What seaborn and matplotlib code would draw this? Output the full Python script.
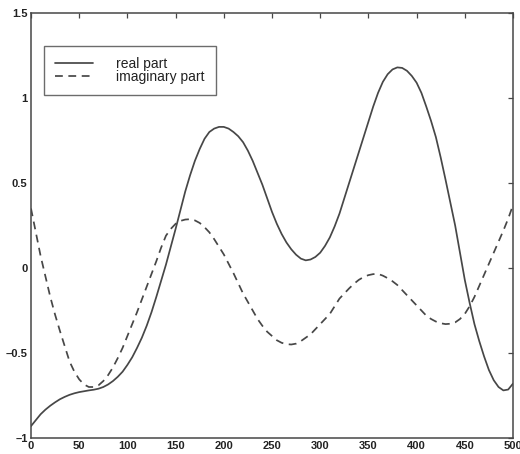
import numpy as np
import pandas as pd
import matplotlib
matplotlib.use("Agg")
import matplotlib.pyplot as plt
import seaborn as sns

# Sample index (0..500 in steps of 5)
n = list(range(0, 501, 5))

real_part = [
    -0.93, -0.895, -0.86, -0.833, -0.81, -0.79, -0.772, -0.758, -0.746, -0.737,
    -0.73, -0.725, -0.72, -0.716, -0.71, -0.70, -0.685, -0.665, -0.64, -0.61,
    -0.57, -0.525, -0.47, -0.41, -0.34, -0.26, -0.17, -0.075, 0.02, 0.125,
    0.23, 0.34, 0.45, 0.545, 0.63, 0.70, 0.76, 0.80, 0.82, 0.83,
    0.83, 0.82, 0.80, 0.775, 0.74, 0.69, 0.63, 0.56, 0.49, 0.41,
    0.33, 0.26, 0.20, 0.15, 0.11, 0.078, 0.055, 0.045, 0.05, 0.065,
    0.09, 0.13, 0.18, 0.245, 0.32, 0.41, 0.50, 0.59, 0.68, 0.77,
    0.86, 0.95, 1.03, 1.095, 1.14, 1.168, 1.18, 1.177, 1.16, 1.13,
    1.09, 1.03, 0.95, 0.865, 0.77, 0.65, 0.52, 0.385, 0.25, 0.09,
    -0.07, -0.205, -0.33, -0.43, -0.52, -0.60, -0.66, -0.70, -0.72, -0.715,
    -0.68,
]

imag_part = [
    0.35, 0.21, 0.07, -0.05, -0.17, -0.275, -0.37, -0.46, -0.55, -0.61,
    -0.655, -0.685, -0.70, -0.70, -0.69, -0.665, -0.63, -0.585, -0.53, -0.47,
    -0.40, -0.33, -0.26, -0.185, -0.11, -0.035, 0.04, 0.12, 0.19, 0.23,
    0.26, 0.277, 0.285, 0.287, 0.28, 0.265, 0.24, 0.21, 0.17, 0.125,
    0.08, 0.025, -0.03, -0.09, -0.15, -0.20, -0.25, -0.30, -0.34, -0.375,
    -0.40, -0.425, -0.44, -0.448, -0.45, -0.445, -0.43, -0.41, -0.39, -0.36,
    -0.33, -0.30, -0.27, -0.225, -0.18, -0.15, -0.12, -0.093, -0.07, -0.053,
    -0.042, -0.036, -0.035, -0.045, -0.06, -0.078, -0.10, -0.13, -0.16, -0.19,
    -0.22, -0.25, -0.28, -0.30, -0.315, -0.325, -0.33, -0.328, -0.32, -0.30,
    -0.27, -0.225, -0.17, -0.105, -0.04, 0.025, 0.09, 0.155, 0.22, 0.29,
    0.37,
]

labels = ["real part", "imaginary part"]
x_ticks = [0, 50, 100, 150, 200, 250, 300, 350, 400, 450, 500]
y_ticks = [-1, -0.5, 0, 0.5, 1, 1.5]
y_tick_labels = ["\u20131", "\u20130.5", "0", "0.5", "1", "1.5"]

df = pd.concat([
    pd.DataFrame({"n": n, "value": real_part, "part": labels[0]}),
    pd.DataFrame({"n": n, "value": imag_part, "part": labels[1]}),
], ignore_index=True)

sns.set_theme(style="white")
plt.rcParams["font.family"] = ["Liberation Sans", "DejaVu Sans"]

ink = "#474747"
fig = plt.figure(figsize=(5.2, 4.54), dpi=100)
ax = fig.add_axes([31 / 520, 16 / 454, 482 / 520, 425 / 454])

sns.lineplot(data=df, x="n", y="value", style="part", color=ink,
             dashes=["", (4.5, 3.2)], linewidth=1.25, ax=ax, legend=True)

ax.set_xlim(0, 500)
ax.set_ylim(-1, 1.5)
ax.set_xticks(x_ticks)
ax.set_xticklabels([str(t) for t in x_ticks])
ax.set_yticks(y_ticks)
ax.set_yticklabels(y_tick_labels)
ax.set_xlabel("")
ax.set_ylabel("")

ax.tick_params(direction="in", length=3.8, width=0.9, color=ink,
               top=True, right=True, labelsize=8, pad=2.5, labelcolor="#222222")
for lab in ax.get_xticklabels() + ax.get_yticklabels():
    lab.set_fontweight("bold")
for sp in ax.spines.values():
    sp.set_visible(True)
    sp.set_color(ink)
    sp.set_linewidth(1.1)

handles, labs = ax.get_legend_handles_labels()
leg = ax.legend(handles, labs, loc="upper left",
                bbox_to_anchor=(44 / 520, 1 - 46 / 454),
                bbox_transform=fig.transFigure, borderaxespad=0,
                frameon=True, fancybox=False, shadow=False,
                fontsize=10, handlelength=2.7, handletextpad=1.7,
                labelspacing=-0.1, borderpad=0.8)
leg.get_frame().set_edgecolor(ink)
leg.get_frame().set_linewidth(1.0)
for t in leg.get_texts():
    t.set_color("#222222")

fig.savefig("out.png", dpi=100, facecolor="white")
